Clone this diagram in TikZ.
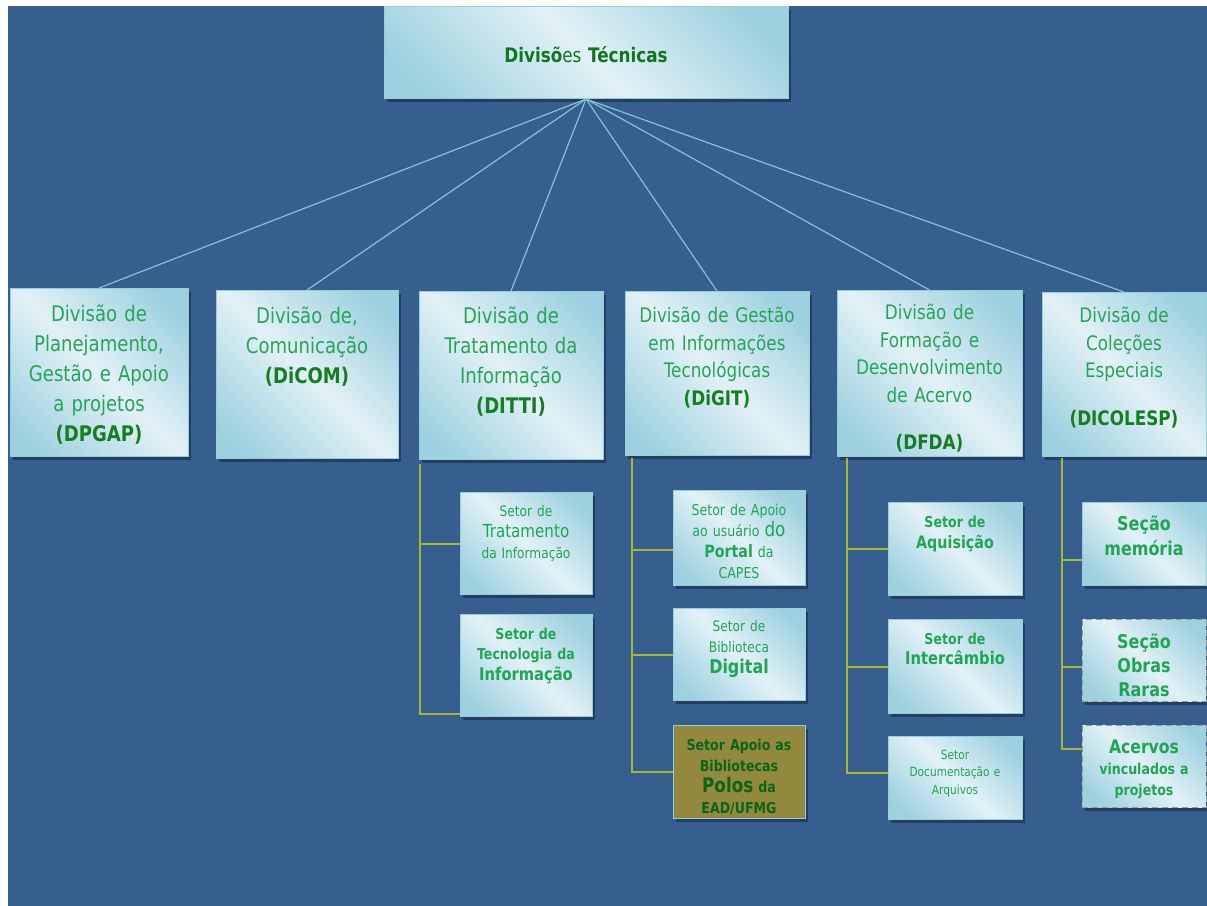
\documentclass[tikz,border=0pt]{standalone}
\usepackage{fontspec}
\setmainfont{DejaVu Sans}[FakeStretch=0.84]
\usetikzlibrary{positioning,shadows}

\definecolor{bgblue}{RGB}{54,95,143}
\definecolor{boxlight}{RGB}{226,241,246}
\definecolor{boxdark}{RGB}{158,209,223}
\definecolor{boxline}{RGB}{150,206,220}
\definecolor{linkcyan}{RGB}{128,196,210}
\definecolor{branchgreen}{RGB}{168,184,44}
\definecolor{titlegreen}{RGB}{16,120,28}
\definecolor{divgreen}{RGB}{38,164,88}
\definecolor{codegreen}{RGB}{22,125,34}
\definecolor{subgreen}{RGB}{32,165,85}
\definecolor{olivebox}{RGB}{146,137,62}
\definecolor{olivetext}{RGB}{12,100,22}

\pgfdeclarehorizontalshading{boxfade}{100bp}{color(0bp)=(boxdark); color(22bp)=(boxdark); color(50bp)=(boxlight); color(78bp)=(boxdark); color(100bp)=(boxdark)}

\newcommand{\fsz}[2]{\fontsize{#1}{#2}\selectfont}
\newcommand{\divcode}[1]{{\bfseries\color{codegreen}#1}}

\begin{document}
\begin{tikzpicture}[x=0.5pt,y=-0.5pt,
    card/.style={draw=boxline, line width=0.5pt, anchor=north, align=center, inner sep=0pt,
      drop shadow={shadow xshift=1.5pt, shadow yshift=-1.5pt, opacity=0.45, fill=black!75!bgblue}},
    box/.style={card, shading=boxfade, shading angle=45},
    divbig/.style={box, text=divgreen, font=\fsz{10.75}{15}},
    divsmall/.style={box, text=divgreen, font=\fsz{10}{13.75}},
    subbox/.style={box, text=subgreen},
    dashbox/.style={subbox, densely dashed, draw=gray!80},
    olivecard/.style={card, fill=olivebox, text=olivetext},
    link/.style={draw=linkcyan, line width=0.6pt},
    branch/.style={draw=branchgreen, line width=1pt}]
  \useasboundingbox (0,0) rectangle (1207,906);
  \fill[white] (0,0) rectangle (1207,906);
  \fill[bgblue] (8,6) rectangle (1207,906);

  \node[box, text width=202pt, text height=28pt, text depth=18pt, text=titlegreen, font=\fsz{10}{12}] (tec) at (586,6) {\textbf{Divisõ}es \textbf{Técnicas}};

  \node[divbig, text width=89pt, text height=16.5pt, text depth=67.5pt] (d_pgap) at (99,288) {Divisão de\\Planejamento,\\Gestão e Apoio\\a projetos\\\divcode{(DPGAP)}};
  \node[divbig, text width=91pt, text height=16.5pt, text depth=67.5pt] (d_com) at (307,290) {Divisão de,\\Comunicação\\\divcode{(DiCOM)}};
  \node[divbig, text width=92pt, text height=16pt, text depth=68pt] (d_tti) at (511,291) {Divisão de\\Tratamento da\\Informação\\\divcode{(DITTI)}};
  \node[divsmall, text width=92pt, text height=15.5pt, text depth=66.5pt] (d_git) at (717,291) {Divisão de Gestão\\em Informações\\Tecnológicas\\\divcode{(DiGIT)}};
  \node[divsmall, text width=92.5pt, text height=14.5pt, text depth=68.5pt] (d_fda) at (929.5,290) {Divisão de\\Formação e\\Desenvolvimento\\de Acervo\\[10pt]\divcode{(DFDA)}};
  \node[divsmall, text width=82pt, text height=15pt, text depth=67pt] (d_esp) at (1124,292) {Divisão de\\Coleções\\Especiais\\[10pt]\divcode{(DICOLESP)}};

  \path[link] (tec.south) edge (d_pgap.north) edge (d_com.north) edge (d_tti.north)
    edge (d_git.north) edge (d_fda.north) edge (d_esp.north);

  % DITTI
  \node[subbox, text width=66pt, text height=12pt, text depth=39pt, font=\fsz{7.25}{10.5}] (s_trat) at (526,492) {Setor de\\{\fsz{9}{10.5}Tratamento}\\da Informação};
  \node[subbox, text width=66pt, text height=12.25pt, text depth=38.75pt, font=\bfseries\fsz{7.5}{10.25}, below=9.5pt of s_trat] (s_tec) {Setor de\\Tecnologia da\\{\fsz{8.75}{10.25}Informação}};
  % DiGIT
  \node[subbox, text width=66pt, text height=12.25pt, text depth=35.25pt, font=\fsz{7.5}{10.5}] (s_usu) at (739,490) {Setor de Apoio\\ao usuário {\fsz{10}{10.5}do}\\{\bfseries\fsz{8.5}{10.5}Portal} da\\CAPES};
  \node[subbox, text width=66pt, text height=11.5pt, text depth=34.5pt, font=\fsz{7.25}{10.5}, below=11pt of s_usu] (s_dig) {Setor de\\Biblioteca\\{\bfseries\fsz{9.5}{10.5}Digital}};
  \node[olivecard, text width=66pt, text height=12.25pt, text depth=34.25pt, font=\bfseries\fsz{7.5}{10.5}, below=12pt of s_dig] (s_ead) {Setor Apoio as\\Bibliotecas\\{\fsz{10}{10.5}Polos} da\\EAD/UFMG};
  % DFDA
  \node[subbox, text width=67pt, text height=12.25pt, text depth=34.25pt, font=\bfseries\fsz{7.5}{10.5}] (s_aqu) at (955,502) {Setor de\\{\fsz{8.5}{10.5}Aquisição}};
  \node[subbox, text width=67pt, text height=12.25pt, text depth=34.75pt, font=\bfseries\fsz{7.5}{10}, below=11.5pt of s_aqu] (s_int) {Setor de\\{\fsz{8.75}{10}Intercâmbio}};
  \node[subbox, text width=67pt, text height=11.25pt, text depth=30.25pt, font=\fsz{6.3}{8.75}, below=11pt of s_int] (s_doc) {Setor\\Documentação e\\Arquivos};
  % DICOLESP
  \node[subbox, text width=62pt, text height=14pt, text depth=27.5pt, font=\bfseries\fsz{9.5}{12.5}] (s_mem) at (1144,502) {Seção\\memória};
  \node[dashbox, text width=62pt, text height=14.5pt, text depth=26.5pt, font=\bfseries\fsz{9.5}{12}, below=16.5pt of s_mem] (s_rar) {Seção\\Obras\\Raras};
  \node[dashbox, text width=62pt, text height=14pt, text depth=27pt, font=\bfseries\fsz{7.5}{10.5}, below=11.5pt of s_rar] (s_vin) {{\fsz{9.3}{10.5}Acervos}\\vinculados a\\projetos};

  \draw[branch] ([xshift=0.5pt,yshift=-2pt]d_tti.south west) |- (s_trat.west);
  \draw[branch] ([xshift=0.5pt,yshift=-2pt]d_tti.south west) |- ([yshift=1.5pt]s_tec.south west);
  \draw[branch] ([xshift=3.5pt,yshift=-1pt]d_git.south west) |- ([yshift=-6pt]s_usu.west);
  \draw[branch] ([xshift=3.5pt,yshift=-1pt]d_git.south west) |- (s_dig.west);
  \draw[branch] ([xshift=3.5pt,yshift=-1pt]d_git.south west) |- (s_ead.west);
  \draw[branch] ([xshift=5pt,yshift=-0.5pt]d_fda.south west) |- (s_aqu.west);
  \draw[branch] ([xshift=5pt,yshift=-0.5pt]d_fda.south west) |- (s_int.west);
  \draw[branch] ([xshift=5pt,yshift=-0.5pt]d_fda.south west) |- ([yshift=2.75pt]s_doc.west);
  \draw[branch] ([xshift=10pt,yshift=-0.5pt]d_esp.south west) |- ([yshift=-8pt]s_mem.west);
  \draw[branch] ([xshift=10pt,yshift=-0.5pt]d_esp.south west) |- ([yshift=-3pt]s_rar.west);
  \draw[branch] ([xshift=10pt,yshift=-0.5pt]d_esp.south west) |- ([yshift=9pt]s_vin.west);
\end{tikzpicture}
\end{document}
